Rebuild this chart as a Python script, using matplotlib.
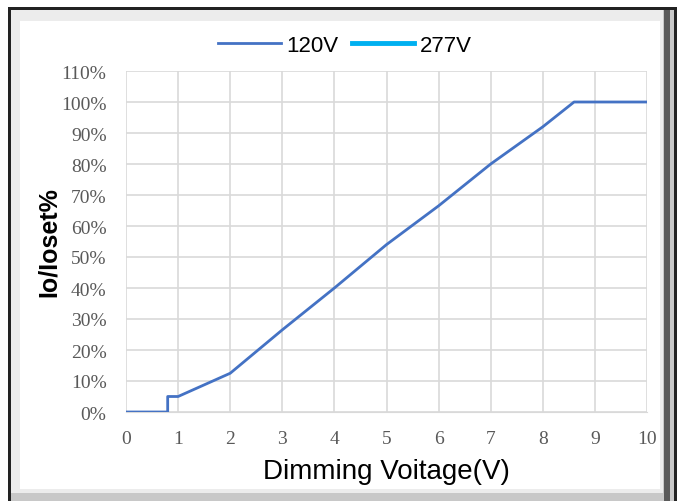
import matplotlib
matplotlib.use("Agg")
import matplotlib.pyplot as plt
from matplotlib.patches import Rectangle
from matplotlib.ticker import FuncFormatter

# data
v_120 = [0, 0.8, 0.8, 1, 2, 3, 4, 5, 6, 7, 8, 8.6, 10]
io_120 = [0, 0, 5, 5, 12.5, 26.5, 40, 54, 66.5, 80, 92, 100, 100]
v_277 = []
io_277 = []
x_ticks = list(range(0, 11))
y_ticks = list(range(0, 111, 10))

fig = plt.figure(figsize=(6.83, 5.02), dpi=100)
W, H = 683, 502

def px(x0, y0, x1, y1, **kw):
    # rectangle in pixel coords (top-left origin)
    r = Rectangle((x0 / W, 1 - y1 / H), (x1 - x0) / W, (y1 - y0) / H,
                  transform=fig.transFigure, zorder=-5, **kw)
    fig.patches.append(r)

# frame: black outer border with a gray bevel
px(8, 8, 677, 502, facecolor="#222222", edgecolor="none")
px(11, 11, 674, 502, facecolor="#c8c8c8", edgecolor="none")
px(11, 11, 663, 494, facecolor="#ececec", edgecolor="none")
px(20, 22, 660, 490, facecolor="white", edgecolor="none")
px(664, 11, 670, 502, facecolor="#5a5a5a", edgecolor="none")

ax = fig.add_axes([126 / W, 1 - 413 / H, (647 - 126) / W, (413 - 72) / H])
ax.set_facecolor("white")
ax.plot(v_120, io_120, color="#4472C4", lw=2, label="120V", zorder=3)
ax.plot(v_277, io_277, color="#00B0F0", lw=3.5, label="277V", zorder=2)

ax.set_xlim(0, 10)
ax.set_ylim(0, 110)
ax.set_xticks(x_ticks)
ax.set_yticks(y_ticks)
ax.yaxis.set_major_formatter(FuncFormatter(lambda v, p: f"{int(v)}%"))
ax.grid(True, color="#d9d9d9", lw=1.2)
ax.set_axisbelow(True)
for s in ax.spines.values():
    s.set_visible(False)
ax.spines["bottom"].set_visible(True)
ax.spines["bottom"].set_color("#d9d9d9")
ax.tick_params(length=0, labelsize=14, labelcolor="#595959")
ax.tick_params(axis="x", pad=13)
ax.tick_params(axis="y", pad=14)
for lab in ax.get_xticklabels() + ax.get_yticklabels():
    lab.set_family("Liberation Serif")

ax.set_xlabel("Dimming Voitage(V)", family="Liberation Sans", fontsize=20, labelpad=8)
ax.set_ylabel("Io/Ioset%", family="Liberation Sans", fontsize=18,
              fontweight="bold", labelpad=0)

leg = fig.legend(loc="center", bbox_to_anchor=(345 / W, 1 - 46 / H), ncol=2,
                 frameon=False, prop={"family": "Liberation Sans", "size": 16},
                 handlelength=2.8, handletextpad=0.25, columnspacing=0.6)

fig.savefig("out.png", dpi=100)
